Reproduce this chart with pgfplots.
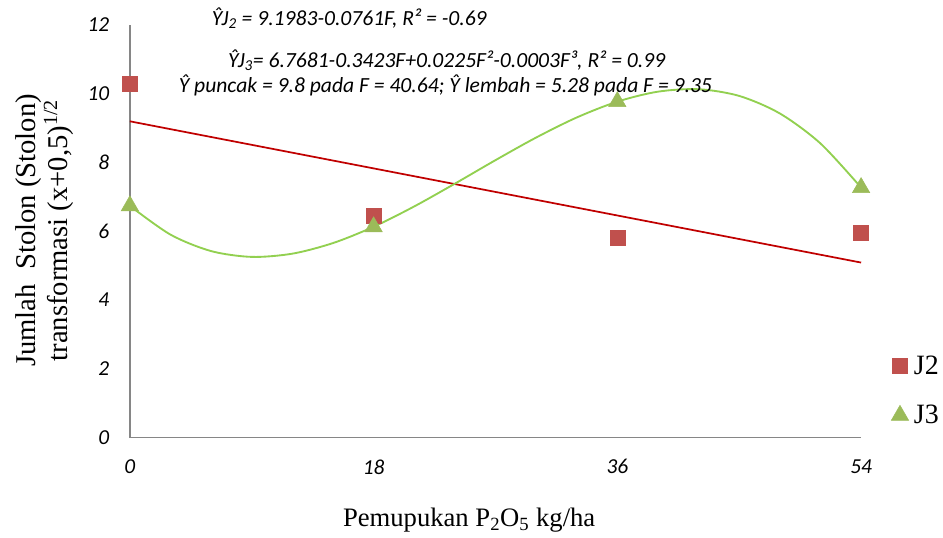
\documentclass[border=0pt]{standalone}
\usepackage{pgfplots}
\pgfplotsset{compat=1.18}
\usepackage{fontspec}
\setmainfont{Liberation Serif}
\newfontfamily\carl{Carlito}
\definecolor{jtwo}{HTML}{C0504D}
\definecolor{jthree}{HTML}{9BBB59}
\definecolor{redline}{HTML}{C00000}
\definecolor{greenline}{HTML}{92D050}
\definecolor{axgray}{HTML}{868686}
\begin{document}
\begin{tikzpicture}[x=1pt,y=1pt]
\begin{axis}[
  name=ax,
  at={(0,0)}, anchor=south west,
  scale only axis, width=549pt, height=309.75pt,
  xmin=0, xmax=54, ymin=0, ymax=12,
  axis x line*=bottom, axis y line*=left,
  axis line style={-, axgray, line width=1.1pt},
  xtick={0,18,36,54}, ytick={0,2,4,6,8,10,12},
  major tick length=0pt,
  /pgf/number format/assume math mode=true,
  ticklabel style={font=\carl\itshape\fontsize{16}{16}\selectfont},
  yticklabel style={xshift=-12pt},
  xticklabel style={yshift=-13pt},
  clip=false,
  xlabel={Pemupukan P\textsubscript{2}O\textsubscript{5} kg/ha},
  xlabel style={at={(axis description cs:0.464,-0.199)}, anchor=center, font=\fontsize{20}{20}\selectfont},
  ylabel={Jumlah\ \ Stolon (Stolon)\\transformasi (x+0,5)\textsuperscript{1/2}},
  ylabel style={at={(axis description cs:-0.117,0.502)}, anchor=center, align=center, font=\fontsize{21.5}{24}\selectfont},
  legend style={at={(axis description cs:1.041,0.205)}, anchor=north west, draw=none, fill=none,
    font=\fontsize{21}{21}\selectfont, row sep=17.5pt, inner sep=0pt,
    nodes={inner xsep=4pt}},
  legend cell align=left,
]
\addplot[only marks, mark=square*, mark size=5.6pt, color=jtwo] coordinates {
  (0,10.29) (18,6.45) (36,5.81) (54,5.96)
};
\addlegendentry{J2}
\addplot[only marks, mark=triangle*, mark size=7.5pt, color=jthree] coordinates {
  (0,6.74) (18,6.13) (36,9.77) (54,7.27)
};
\addlegendentry{J3}
\addplot[forget plot, redline, line width=1.3pt] coordinates {(0,9.198) (54,5.089)};
\addplot[forget plot, greenline, line width=1.4pt, smooth] coordinates {
  (0,6.740) (3,5.902) (6,5.423) (9,5.254) (12,5.348) (15,5.656) (18,6.130)
  (21,6.722) (24,7.384) (27,8.068) (30,8.725) (33,9.309) (36,9.770)
  (39,10.060) (42,10.131) (45,9.936) (48,9.426) (51,8.553) (54,7.270)
};
\node[font=\carl\itshape\fontsize{16.2}{16.2}\selectfont] at (axis cs:16.2,12.2)
  {Ŷ\kern-0.5pt J\textsubscript{2} = 9.1983-0.0761F, R² = -0.69};
\node[font=\carl\itshape\fontsize{16.2}{16.2}\selectfont] at (axis cs:23.4,10.98)
  {ŶJ\textsubscript{3}= 6.7681-0.3423F+0.0225F²-0.0003F³, R² = 0.99};
\node[font=\carl\itshape\fontsize{16.2}{16.2}\selectfont] at (axis cs:23.3,10.23)
  {Ŷ puncak = 9.8 pada F = 40.64; Ŷ lembah = 5.28 pada F = 9.35};
\end{axis}
\pgfresetboundingbox
\path[use as bounding box] (-97.5,-75) rectangle (610.5,328.5);
\end{tikzpicture}
\end{document}
